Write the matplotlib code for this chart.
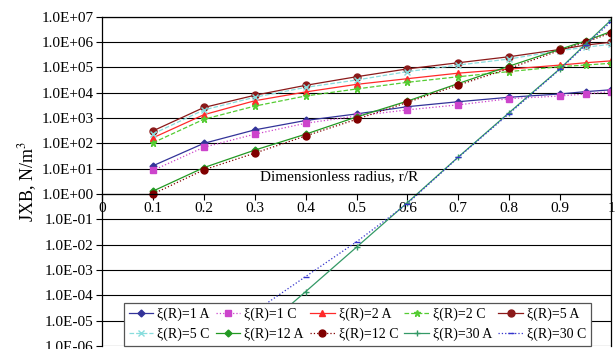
import numpy as np
import matplotlib
matplotlib.use('Agg')
import matplotlib.pyplot as plt
from matplotlib.ticker import FixedLocator, FuncFormatter

plt.rcParams['font.family'] = ['Liberation Serif', 'DejaVu Serif']
plt.rcParams['mathtext.fontset'] = 'stix'

# radial positions r/R
r = [0.1, 0.2, 0.3, 0.4, 0.5, 0.6, 0.7, 0.8, 0.9, 0.95, 1.0]

# JxB for each xi(R), analytic (A) and computed (C)
jxb_1a = [13, 100, 340, 800, 1450, 2800, 4400, 6600, 8900, 11000, 13000]
jxb_1c = [8.5, 70, 230, 620, 1200, 2100, 3300, 5800, 7400, 8900, 11000]
jxb_2a = [165, 1350, 4800, 10700, 21300, 35700, 59000, 85000, 123000, 152000, 180000]
jxb_2c = [105, 890, 2950, 7400, 14000, 25700, 42600, 68000, 107000, 123000, 145000]
jxb_5a = [310, 2600, 7900, 19500, 42600, 87000, 152000, 263000, 510000, 760000, 980000]
jxb_5c = [235, 2080, 6600, 16200, 31600, 68000, 123000, 214000, 460000, 620000, 820000]
jxb_12a = [1.3, 11, 54, 230, 1100, 4650, 23000, 112000, 520000, 1100000, 2600000]
jxb_12c = [1.0, 9, 41, 196, 890, 4150, 20000, 91000, 470000, 980000, 2300000]
jxb_30a = [6e-10, 4e-8, 2.5e-6, 1.4e-4, 8e-3, 0.46, 29, 1650, 90000, 830000, 7400000]
jxb_30c = [3e-9, 3e-7, 2.3e-5, 5.5e-4, 1.3e-2, 0.42, 28, 1500, 85000, 750000, 6300000]

labels = ['ξ(R)=1 A', 'ξ(R)=1 C', 'ξ(R)=2 A', 'ξ(R)=2 C', 'ξ(R)=5 A',
          'ξ(R)=5 C', 'ξ(R)=12 A', 'ξ(R)=12 C', 'ξ(R)=30 A', 'ξ(R)=30 C']
series = [jxb_1a, jxb_1c, jxb_2a, jxb_2c, jxb_5a,
          jxb_5c, jxb_12a, jxb_12c, jxb_30a, jxb_30c]
styles = [
    dict(color='#333399', ls='-', marker='D', ms=3.5),
    dict(color='#cc44cc', ls=':', marker='s', ms=4.5),
    dict(color='#ff2a2a', ls='-', marker='^', ms=5),
    dict(color='#55cc33', ls='--', marker='*', ms=4.5),
    dict(color='#8b1a1a', ls='-', marker='o', ms=5),
    dict(color='#88dddd', ls='--', marker='x', ms=4),
    dict(color='#229922', ls='-', marker='D', ms=3.5),
    dict(color='#800000', ls=':', marker='o', ms=5),
    dict(color='#339966', ls='-', marker='+', ms=5),
    dict(color='#3333cc', ls=':', marker='_', ms=5),
]

fig = plt.figure(figsize=(6.16, 3.49), dpi=100)
ax = fig.add_axes([0.1656, 0.0086, 0.8264, 0.9436])

handles = []
for vals, lab, st in zip(series, labels, styles):
    h, = ax.plot(r, vals, lw=0.9, label=lab, **st)
    handles.append(h)

ax.set_yscale('log')
ax.set_ylim(1e-6, 1e7)
ax.set_xlim(0, 1)

decades = [10.0 ** k for k in range(-6, 8)]
ax.yaxis.set_major_locator(FixedLocator(decades))
ax.yaxis.set_minor_locator(FixedLocator([]))
ax.yaxis.set_major_formatter(FuncFormatter(lambda v, p: '1.0E%+03d' % round(np.log10(v))))
ax.grid(axis='y', color='black', lw=0.8)
ax.set_axisbelow(True)

# x axis crosses at 1.0E+00
ax.spines['bottom'].set_position(('data', 1))
ax.set_xticks([0, 0.1, 0.2, 0.3, 0.4, 0.5, 0.6, 0.7, 0.8, 0.9, 1])
ax.set_xticklabels(['0', '0.1', '0.2', '0.3', '0.4', '0.5', '0.6', '0.7', '0.8', '0.9', '1'])
ax.tick_params(axis='both', labelsize=11, length=4, width=0.8, direction='out', pad=2)
for sp in ax.spines.values():
    sp.set_linewidth(0.9)

ax.set_xlabel('Dimensionless radius, r/R', fontsize=11)
ax.xaxis.set_label_coords(0.465, 0.535)
ax.set_ylabel('JXB, N/m$^3$', fontsize=13, labelpad=2)

# legend is filled row by row
order = [0, 5, 1, 6, 2, 7, 3, 8, 4, 9]
leg = ax.legend([handles[i] for i in order], [labels[i] for i in order],
                ncol=5, loc='lower left', bbox_to_anchor=(0.043, 0.0),
                borderaxespad=0, fontsize=10, handlelength=1.75,
                handletextpad=0.3, columnspacing=0.45, labelspacing=0.45,
                borderpad=0.35, frameon=True, fancybox=False, framealpha=1)
leg.get_frame().set_edgecolor('#555555')
leg.get_frame().set_linewidth(0.9)

fig.savefig('out.png', dpi=100)
